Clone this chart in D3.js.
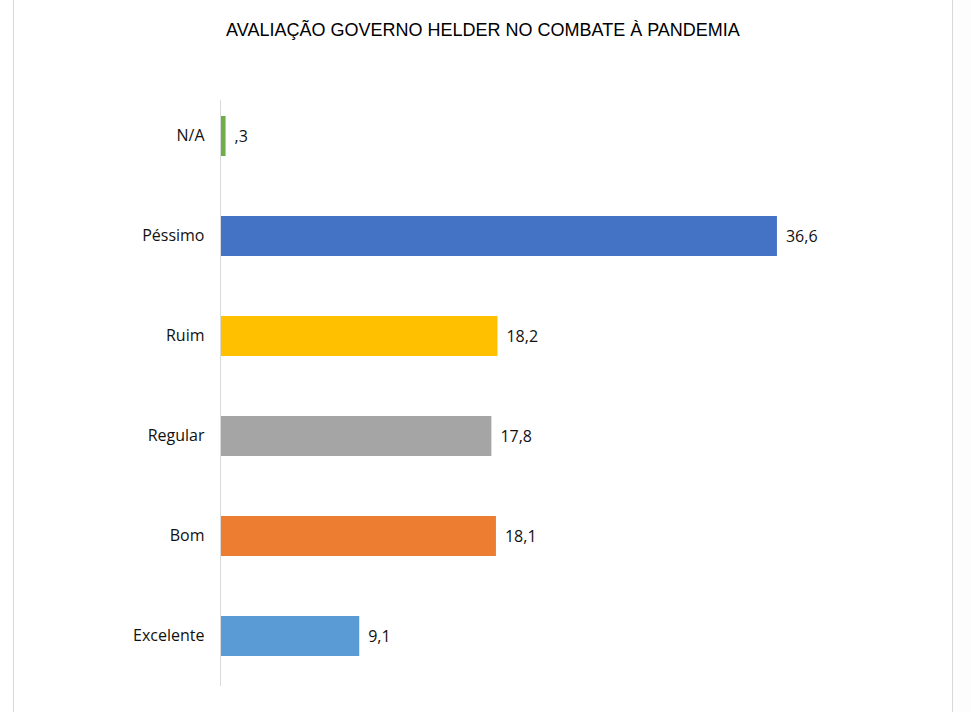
<!DOCTYPE html>
<html>
<head>
<meta charset="utf-8">
<script src="https://cdn.jsdelivr.net/npm/d3@7/dist/d3.min.js"></script>
<style>
  html, body { margin: 0; padding: 0; background: #ffffff; }
  svg { display: block; }
</style>
</head>
<body>
<svg id="chart" width="971" height="712"></svg>
<script>
const categories = ["N/A", "Péssimo", "Ruim", "Regular", "Bom", "Excelente"];
const values = [0.3, 36.6, 18.2, 17.8, 18.1, 9.1];
const valueLabels = [",3", "36,6", "18,2", "17,8", "18,1", "9,1"];
const colors = ["#70AD47", "#4472C4", "#FFC000", "#A5A5A5", "#ED7D31", "#5B9BD5"];
const title = "AVALIAÇÃO GOVERNO HELDER NO COMBATE À PANDEMIA";

const data = categories.map((c, i) => ({ cat: c, value: values[i], label: valueLabels[i], color: colors[i] }));

const svg = d3.select("#chart");
const W = 971, H = 712;

// chart area border lines
svg.append("rect").attr("x", 952).attr("y", 0).attr("width", 19).attr("height", H).attr("fill", "#fdfdfd");
svg.append("line").attr("x1", 13.5).attr("x2", 13.5).attr("y1", 0).attr("y2", H).attr("stroke", "#d9d9d9").attr("stroke-width", 1);
svg.append("line").attr("x1", 952.5).attr("x2", 952.5).attr("y1", 0).attr("y2", H).attr("stroke", "#d9d9d9").attr("stroke-width", 1);

const x = d3.scaleLinear().domain([0, 40]).range([221, 221 + 15.19 * 40]);
const y = d3.scaleBand().domain(categories).range([86, 686]).paddingInner(0.6).paddingOuter(0.3);

svg.append("text")
  .attr("x", 483).attr("y", 36)
  .attr("text-anchor", "middle")
  .attr("font-family", "Liberation Sans, Arial, sans-serif")
  .attr("font-size", 18)
  .attr("fill", "#000")
  .text(title);

svg.selectAll("rect.bar").data(data).enter().append("rect")
  .attr("class", "bar")
  .attr("x", x(0))
  .attr("y", d => y(d.cat))
  .attr("width", d => x(d.value) - x(0))
  .attr("height", y.bandwidth())
  .attr("fill", d => d.color);

// y axis
const yAxis = d3.axisLeft(y).tickSize(0).tickPadding(16);
const gy = svg.append("g").attr("transform", `translate(${x(0) - 0.5},0)`).call(yAxis);
gy.select(".domain").attr("stroke", "#d9d9d9").attr("d", `M0,100V686`);
gy.selectAll("text")
  .attr("font-family", "Open Sans, sans-serif")
  .attr("font-size", 16)
  .attr("fill", "#111");

svg.selectAll("text.val").data(data).enter().append("text")
  .attr("class", "val")
  .attr("x", d => x(d.value) + 9)
  .attr("y", d => y(d.cat) + y.bandwidth() / 2)
  .attr("dy", "0.35em")
  .attr("font-family", "Open Sans, sans-serif")
  .attr("font-size", 16)
  .attr("fill", "#111")
  .text(d => d.label);
</script>
</body>
</html>
